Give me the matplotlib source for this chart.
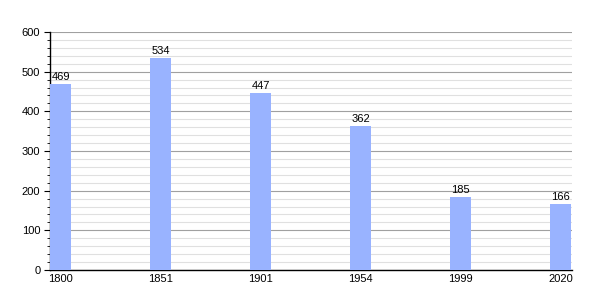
import matplotlib
matplotlib.use("Agg")
import matplotlib.pyplot as plt
from matplotlib.ticker import MultipleLocator

plt.rcParams["font.family"] = ["Liberation Sans", "DejaVu Sans"]

years = ["1800", "1851", "1901", "1954", "1999", "2020"]
population = [469, 534, 447, 362, 185, 166]

fig = plt.figure(figsize=(6, 3), dpi=100)
ax = fig.add_axes([50/600, 30/300, 522/600, 238/300])

pos = list(range(len(years)))
ax.bar(pos, population, width=0.21, align="edge", color="#99b3ff", zorder=3)
for p, v in zip(pos, population):
    ax.text(p + 0.105, v + 5, str(v), ha="center", va="bottom", fontsize=8, zorder=4)

ax.set_xlim(0, 5.22)
ax.set_ylim(0, 600)
ax.yaxis.set_major_locator(MultipleLocator(100))
ax.yaxis.set_minor_locator(MultipleLocator(20))
ax.grid(True, which="major", axis="y", color="#a0a0a0", linewidth=0.8, zorder=0)
ax.grid(True, which="minor", axis="y", color="#e0e0e0", linewidth=0.8, zorder=0)
ax.set_xticks([p + 0.105 for p in pos])
ax.set_xticklabels(years)
ax.tick_params(axis="x", length=0, labelsize=8, pad=3)
ax.tick_params(axis="y", which="major", length=4, labelsize=8, pad=3)
ax.tick_params(axis="y", which="minor", length=2)
for s in ["top", "right"]:
    ax.spines[s].set_visible(False)
ax.spines["left"].set_linewidth(1)
ax.spines["bottom"].set_linewidth(1)

fig.savefig("out.png", dpi=100)
